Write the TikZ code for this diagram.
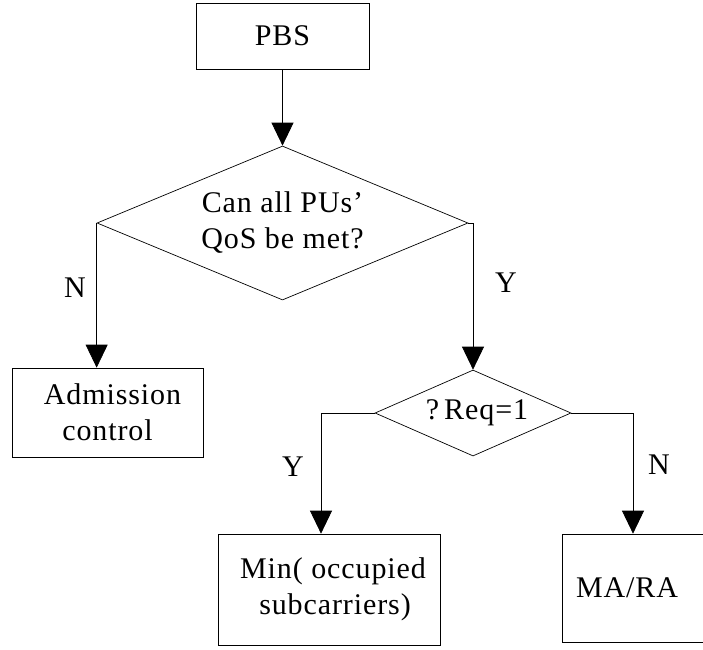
\documentclass[tikz,border=0pt]{standalone}
\usepackage{fontspec}
\setmainfont{Liberation Serif}[LetterSpace=3]
\usetikzlibrary{shapes.geometric,arrows.meta}

\begin{document}
\begin{tikzpicture}[
  x=1pt,
  y=-1pt,
  every node/.style={
    font=\fontsize{30}{36}\selectfont,
  },
  process/.style={
    draw,
    line width=0.7pt,
    inner sep=0pt,
    align=center,
  },
  decision/.style={
    diamond,
    draw,
    line width=0.7pt,
    inner sep=0pt,
    align=center,
  },
  flow/.style={
    line width=0.7pt,
    -{Triangle[width=22pt,length=23pt]},
  },
  branch/.style={
    inner sep=0pt,
  }
]
\useasboundingbox (0,0) rectangle (703,649);
\node[process,minimum width=173pt,minimum height=66pt] (pbs) at (282.5,36) {PBS};
\node[decision,aspect=2.4,minimum width=371pt,minimum height=154pt] (qos) at (282.5,223) {Can all PUs'\\QoS be met?};
\node[process,minimum width=191pt,minimum height=89pt] (adm) at (107.5,412.5) {\hspace{10pt}Admission\\control};
\node[decision,aspect=2.28,minimum width=196pt,minimum height=86pt] (req) at (473,413) {\hspace{8pt}?\,Req=1};
\node[process,minimum width=222pt,minimum height=111pt] (minsc) at (329,589.5) {\hspace{8pt}Min( occupied\\\hspace{12pt}subcarriers)};
\node[process,minimum width=158pt,minimum height=108pt,text width=130pt,align=left,inner xsep=14pt] (mara) at (641,588) {MA/RA};
\coordinate (yturn) at (321,413);
\coordinate (nturn) at (633,413);
% connectors
\draw[flow] (pbs.south) -- (qos.north);
\draw[flow] (qos.west) -- (qos.west |- adm.north);
\draw[flow] (qos.east) -| (req.north);
\draw[flow] (req.west) -- (yturn) -- (yturn |- minsc.north);
\draw[flow] (req.east) -- (nturn) -- (nturn |- mara.north);
% branch labels
\node[branch] (nqos) at (75,288) {N};
\node[branch] (yqos) at (506,283) {Y};
\node[branch] (yreq) at (293,467) {Y};
\node[branch] (nreq) at (659,465) {N};
\end{tikzpicture}
\end{document}
